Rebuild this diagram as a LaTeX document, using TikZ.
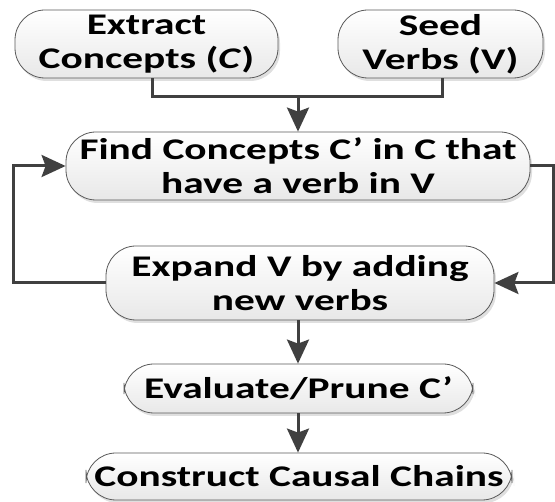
\documentclass[tikz,border=0pt]{standalone}
\usepackage{fontspec}
\setmainfont{Carlito}[FakeStretch=1.38]
\usetikzlibrary{shapes}
\usetikzlibrary{arrows.meta}
\usetikzlibrary{shadows}
\definecolor{flowgray}{HTML}{404040}
\tikzset{
	flownode/.style = {align=center, inner sep=0pt, text centered,
		font=\fontsize{30}{34}\selectfont\bfseries},
	flow_b/.style = {flownode, rectangle, rounded corners=30pt,
		draw=gray!70!black, line width=0.8pt, top color=white, bottom color=gray!18,
		drop shadow={opacity=0.25, shadow xshift=2pt, shadow yshift=-3pt}},% boite
	flow_e/.style = {draw=flowgray, line width=3pt},% trait simple
	flow_a/.style = {flow_e, -{Stealth[length=24pt, width=22pt, inset=4pt]}}% trait avec fleche
}

\begin{document}
\begin{tikzpicture}[x=1pt, y=-1pt]
	\useasboundingbox (0,0) rectangle (555,502);
	\node[flow_b, minimum width=263pt, minimum height=68pt] (extract) at (146.5,44)
		{Extract\\Concepts (\textit{C})};
	\node[flow_b, minimum width=205pt, minimum height=68pt] (seed) at (440.5,44)
		{Seed\\Verbs (V)};
	\node[flow_b, minimum width=464pt, minimum height=68pt] (find) at (298,166)
		{Find Concepts C’ in C that\\have a verb in V};
	\node[flow_b, minimum width=388pt, minimum height=74pt] (expand) at (300,283)
		{Expand V by adding\\new verbs};
	\node[flow_b, minimum width=349pt, minimum height=49pt] (prune) at (298.5,388.5)
		{Evaluate/Prune C’};
	\node[flow_b, minimum width=426pt, minimum height=47pt] (chains) at (299,476.5)
		{Construct Causal Chains};
	\coordinate (join) at (298,97);
	\coordinate (lft) at (13,0);
	\coordinate (rgt) at (553,0);
	\draw[flow_e] ([xshift=5.5pt]extract.south) |- (join) -| ([xshift=1.5pt]seed.south);
	\draw[flow_a] (join) -- (find.north);
	\draw[flow_a] (expand.west) -- (lft |- expand.west) |- (find.west);
	\draw[flow_a] (find.east) -- (rgt |- find.east) |- (expand.east);
	\draw[flow_a] (expand.south -| join) -- (prune.north -| join);
	\draw[flow_a] (prune.south -| join) -- (chains.north -| join);
\end{tikzpicture}
\end{document}
